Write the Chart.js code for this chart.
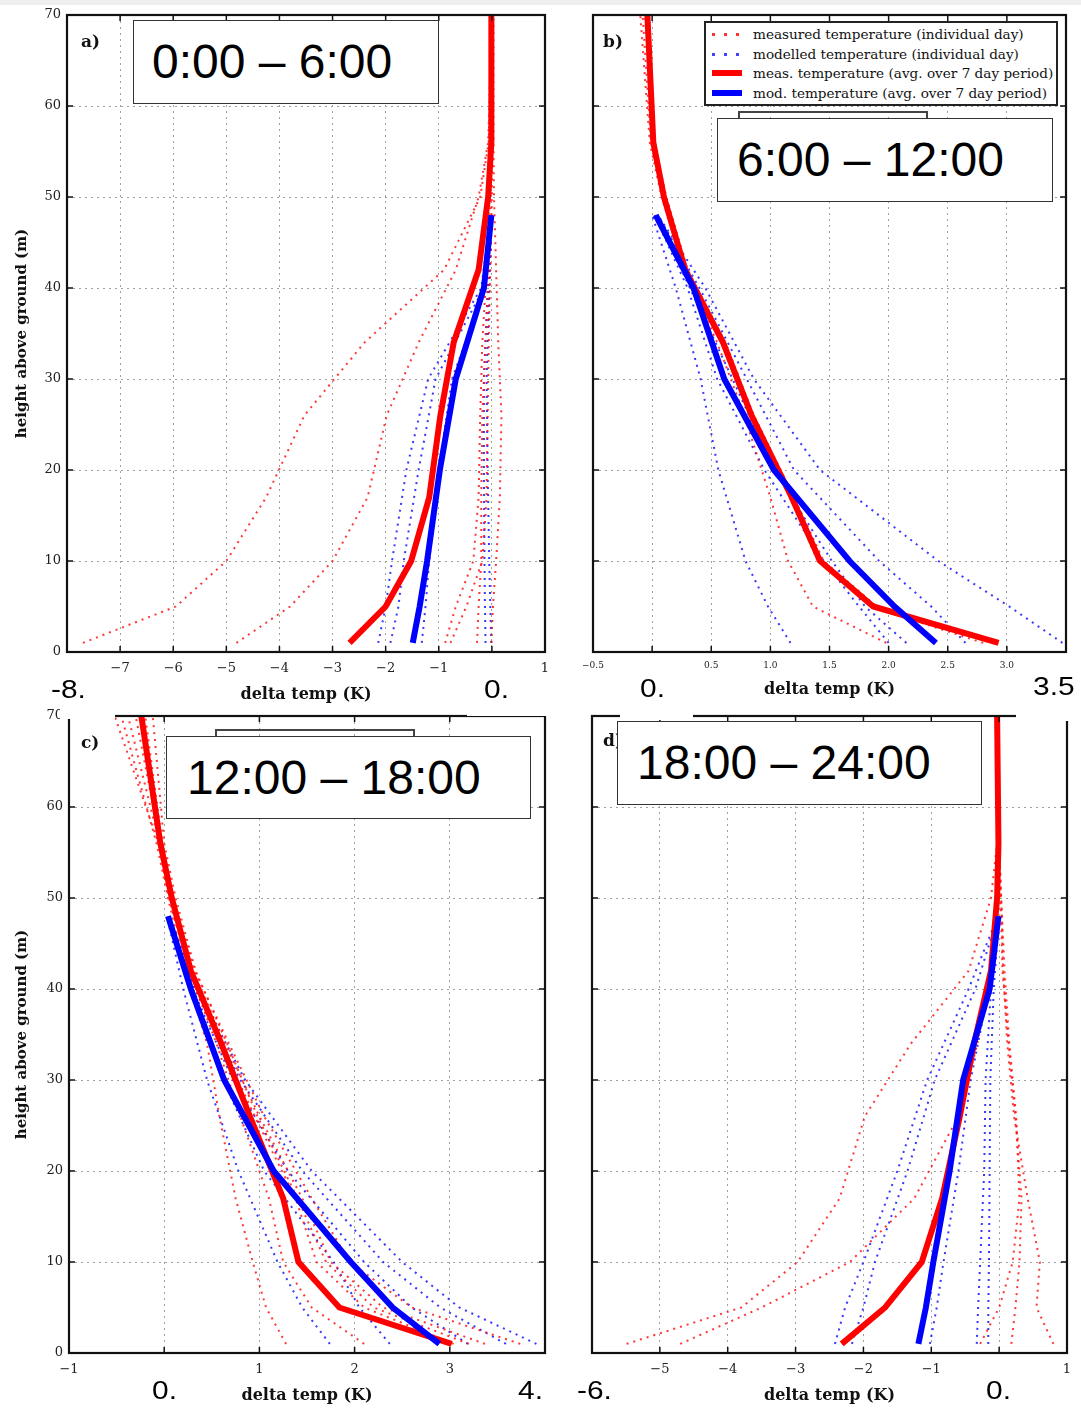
<!DOCTYPE html>
<html>
<head>
<meta charset="utf-8">
<script src="https://cdn.jsdelivr.net/npm/chart.js@4.4.1/dist/chart.umd.min.js"></script>
<style>
  body { margin: 0; background: #fff; }
  #page { position: relative; width: 1081px; height: 1410px; overflow: hidden; background: #fff; }
  canvas { position: absolute; }
  .tbox { position: absolute; border: 1px solid #333; background: #fff; font-family: 'Liberation Sans', Arial, sans-serif; font-size: 48px; color: #000; box-sizing: border-box; white-space: nowrap; }
  .frag { position: absolute; border: 2px solid #444; border-bottom: none; box-sizing: border-box; }
  .wipe { position: absolute; background: #fff; }
  .big { position: absolute; font-family: 'Liberation Sans', Arial, sans-serif; font-size: 26px; line-height: 26px; color: #000; transform: scaleX(1.15); transform-origin: left top; }
  .plab { position: absolute; font-family: 'DejaVu Serif', serif; font-weight: bold; font-size: 17px; line-height: 20px; color: #111; }
  #legend { position: absolute; left: 704px; top: 21px; width: 354px; height: 85px; border: 2px solid #222; background: #fff; box-sizing: border-box; font-family: 'DejaVu Serif', serif; font-size: 13.6px; color: #111; }
  .lrow { position: absolute; left: 0; height: 18px; line-height: 18px; white-space: nowrap; }
  .lrow span.s { position: absolute; left: 6px; top: 8px; width: 30px; height: 3px; }
  .lrow span.t { position: absolute; left: 47px; top: 0; }
</style>
</head>
<body>
<div id="page">
  <div style="position:absolute;left:0;top:0;width:1081px;height:5px;background:#efefef"></div>
  <canvas id="ca" width="550" height="705" style="left:0;top:0"></canvas>
  <canvas id="cb" width="501" height="705" style="left:580px;top:0"></canvas>
  <canvas id="cc" width="550" height="705" style="left:0;top:705px"></canvas>
  <canvas id="cd" width="501" height="705" style="left:580px;top:705px"></canvas>

  <div class="wipe" style="left:60px;top:708px;width:55px;height:11px"></div>
  <div class="wipe" style="left:467px;top:708px;width:83px;height:8px"></div>
  <div class="wipe" style="left:1016px;top:708px;width:60px;height:13px"></div>

  <div class="plab" style="left:81px;top:31px">a)</div>
  <div class="plab" style="left:603px;top:31px">b)</div>
  <div class="plab" style="left:81px;top:732px">c)</div>
  <div class="plab" style="left:603px;top:730px">d)</div>

  <div class="tbox" style="left:133px;top:20px;width:306px;height:84px;line-height:82px;padding-left:18px">0:00 – 6:00</div>

  <div class="frag" style="left:738px;top:111px;width:190px;height:10px"></div>
  <div class="tbox" style="left:717px;top:118px;width:336px;height:84px;line-height:82px;padding-left:19px">6:00 – 12:00</div>

  <div class="frag" style="left:215px;top:729px;width:200px;height:10px"></div>
  <div class="tbox" style="left:166px;top:736px;width:365px;height:83px;line-height:81px;padding-left:20px">12:00 – 18:00</div>

  <div class="wipe" style="left:620px;top:712px;width:73px;height:8px"></div>
  <div class="tbox" style="left:617px;top:721px;width:365px;height:84px;line-height:82px;padding-left:19px">18:00 – 24:00</div>

  <div id="legend">
    <div class="lrow" style="top:2px"><span class="s" style="background:repeating-linear-gradient(90deg,#ff3030 0 3px,transparent 3px 12px)"></span><span class="t">measured temperature (individual day)</span></div>
    <div class="lrow" style="top:22px"><span class="s" style="background:repeating-linear-gradient(90deg,#4040ff 0 3px,transparent 3px 12px)"></span><span class="t">modelled temperature (individual day)</span></div>
    <div class="lrow" style="top:41px"><span class="s" style="top:6px;height:6px;background:#ff0000"></span><span class="t">meas. temperature (avg. over 7 day period)</span></div>
    <div class="lrow" style="top:61px"><span class="s" style="top:6px;height:6px;background:#0000ff"></span><span class="t">mod. temperature (avg. over 7 day period)</span></div>
  </div>

  <div class="big" style="left:51px;top:676px">-8.</div>
  <div class="big" style="left:484px;top:676px">0.</div>
  <div class="big" style="left:640px;top:675px">0.</div>
  <div class="big" style="left:1033px;top:673px">3.5</div>
  <div class="big" style="left:152px;top:1377px">0.</div>
  <div class="big" style="left:518px;top:1377px">4.</div>
  <div class="big" style="left:577px;top:1377px">-6.</div>
  <div class="big" style="left:986px;top:1377px">0.</div>
</div>

<script>
// heights (m) of the measured and modelled profile levels
const measHeights = [1, 5, 10, 17, 26, 34, 42, 50, 56, 70];
const modHeights = [1, 5, 10, 20, 30, 40, 48];

// a) 0:00 - 6:00
const aMeasAvg = [-2.68, -2.0, -1.52, -1.18, -0.97, -0.72, -0.25, -0.07, -0.01, -0.01];
const aModAvg = [-1.49, -1.36, -1.22, -0.98, -0.68, -0.15, -0.01];
const aMeasDays = [
  [-7.7, -5.95, -5.0, -4.25, -3.53, -2.4, -0.9, -0.22, -0.06, 0.0],
  [-4.81, -3.8, -3.0, -2.34, -1.98, -1.38, -0.68, -0.25, -0.07, 0.0],
  [-0.88, -0.68, -0.35, -0.25, -0.22, -0.18, -0.1, -0.05, 0.0, 0.02],
  [-0.78, -0.48, -0.18, -0.1, -0.08, -0.06, -0.03, 0.0, 0.01, 0.02],
  [-0.28, -0.25, -0.2, -0.2, -0.18, -0.12, -0.06, -0.03, 0.0, 0.02],
  [-0.01, 0.02, 0.08, 0.15, 0.18, 0.12, 0.08, 0.04, 0.03, 0.03]
];
const aModDays = [
  [-2.14, -2.0, -1.88, -1.61, -1.2, -0.2, -0.02],
  [-1.91, -1.76, -1.66, -1.38, -1.06, -0.15, -0.01],
  [-1.32, -1.25, -1.18, -1.0, -0.75, -0.12, 0.0],
  [-0.01, -0.03, -0.05, -0.08, -0.1, -0.05, 0.0],
  [-0.12, -0.13, -0.14, -0.15, -0.15, -0.08, -0.01]
];

// b) 6:00 - 12:00
const bMeasAvg = [2.93, 1.87, 1.42, 1.18, 0.84, 0.6, 0.28, 0.1, 0.01, -0.04];
const bModAvg = [2.4, 2.05, 1.67, 1.03, 0.61, 0.35, 0.03];
const bMeasDays = [
  [1.98, 1.36, 1.15, 1.0, 0.78, 0.55, 0.27, 0.08, -0.02, -0.1],
  [2.9, 1.9, 1.45, 1.2, 0.86, 0.62, 0.3, 0.12, 0.02, -0.06],
  [2.8, 1.85, 1.4, 1.17, 0.84, 0.6, 0.28, 0.1, -0.01, -0.08]
];
const bModDays = [
  [3.47, 3.02, 2.42, 1.42, 0.86, 0.45, 0.05],
  [2.65, 2.36, 1.92, 1.2, 0.8, 0.4, 0.05],
  [2.15, 1.8, 1.52, 1.03, 0.68, 0.32, 0.03],
  [1.17, 0.98, 0.79, 0.56, 0.41, 0.2, 0.0],
  [2.0, 1.75, 1.45, 0.95, 0.55, 0.3, 0.02]
];

// c) 12:00 - 18:00
const cMeasAvg = [3.02, 1.84, 1.41, 1.25, 0.9, 0.6, 0.28, 0.08, -0.04, -0.24];
const cModAvg = [2.89, 2.4, 1.96, 1.15, 0.63, 0.28, 0.04];
const cMeasDays = [
  [1.28, 1.07, 0.93, 0.75, 0.58, 0.45, 0.22, 0.04, -0.08, -0.45],
  [3.74, 2.6, 1.95, 1.55, 1.05, 0.68, 0.32, 0.1, -0.02, -0.2],
  [3.37, 2.3, 1.75, 1.45, 1.0, 0.64, 0.3, 0.08, -0.04, -0.3],
  [3.04, 2.1, 1.6, 1.38, 0.95, 0.6, 0.28, 0.07, -0.05, -0.38],
  [2.1, 1.55, 1.25, 1.1, 0.8, 0.55, 0.26, 0.05, -0.06, -0.52],
  [3.2, 2.2, 1.7, 1.4, 0.98, 0.66, 0.33, 0.12, 0.0, -0.12]
];
const cModDays = [
  [3.91, 3.1, 2.5, 1.55, 0.85, 0.35, 0.05],
  [3.59, 2.9, 2.3, 1.45, 0.8, 0.32, 0.04],
  [3.19, 2.6, 2.1, 1.3, 0.72, 0.3, 0.04],
  [2.37, 2.05, 1.78, 1.05, 0.62, 0.26, 0.04],
  [1.74, 1.45, 1.19, 0.78, 0.45, 0.2, 0.03]
];

// d) 18:00 - 24:00
const dMeasAvg = [-2.32, -1.68, -1.14, -0.84, -0.58, -0.37, -0.12, -0.03, -0.01, -0.03];
const dModAvg = [-1.19, -1.08, -0.97, -0.73, -0.53, -0.14, -0.01];
const dMeasDays = [
  [-5.49, -3.8, -2.97, -2.35, -1.98, -1.3, -0.45, -0.12, -0.03, -0.02],
  [-4.7, -3.5, -2.2, -1.25, -0.6, -0.32, -0.12, -0.05, -0.02, -0.02],
  [-0.28, 0.0, 0.2, 0.3, 0.25, 0.15, 0.08, 0.03, 0.0, -0.02],
  [0.8, 0.55, 0.6, 0.42, 0.22, 0.12, 0.06, 0.03, 0.0, -0.01],
  [0.18, 0.24, 0.3, 0.33, 0.24, 0.14, 0.05, 0.02, 0.0, -0.02]
];
const dModDays = [
  [-2.42, -2.27, -2.0, -1.5, -1.06, -0.45, -0.02],
  [-2.17, -2.0, -1.83, -1.35, -0.95, -0.35, -0.02],
  [-1.02, -0.92, -0.82, -0.6, -0.42, -0.15, -0.01],
  [-0.33, -0.31, -0.28, -0.22, -0.2, -0.12, -0.01],
  [-0.16, -0.16, -0.15, -0.14, -0.13, -0.08, 0.0]
];

const yTicks = [0, 10, 20, 30, 40, 50, 60, 70];

function pts(xs, hs) {
  return xs.map((x, i) => ({ x: x, y: hs[i] }));
}

function fmt(v, p) {
  if (p.hide.some(h => Math.abs(h - v) < 1e-6)) return '';
  return v.toFixed(p.dec).replace('-', '\u2212');
}

// black box round the plot area with inward tick marks
const framePlugin = {
  id: 'frame',
  afterDraw(chart) {
    const { ctx, chartArea: a, scales } = chart;
    ctx.save();
    ctx.strokeStyle = '#111';
    ctx.lineWidth = 1.5;
    ctx.beginPath();
    scales.x.ticks.forEach(t => {
      const px = scales.x.getPixelForValue(t.value);
      ctx.moveTo(px, a.bottom); ctx.lineTo(px, a.bottom - 6);
      ctx.moveTo(px, a.top); ctx.lineTo(px, a.top + 6);
    });
    scales.y.ticks.forEach(t => {
      const py = scales.y.getPixelForValue(t.value);
      ctx.moveTo(a.left, py); ctx.lineTo(a.left + 6, py);
      ctx.moveTo(a.right, py); ctx.lineTo(a.right - 6, py);
    });
    ctx.stroke();
    ctx.lineWidth = 2.2;
    ctx.strokeRect(a.left, a.top, a.right - a.left, a.bottom - a.top);
    ctx.restore();
  }
};

function buildChart(p) {
  const datasets = [];
  datasets.push({ data: pts(p.modAvg, modHeights), borderColor: '#0000ff', borderWidth: 6 });
  datasets.push({ data: pts(p.measAvg, measHeights), borderColor: '#ff0000', borderWidth: 6 });
  p.measDays.forEach(d => datasets.push({
    data: pts(d, measHeights), borderColor: 'rgba(255,20,20,0.85)', borderWidth: 2, borderDash: [2, 5]
  }));
  p.modDays.forEach(d => datasets.push({
    data: pts(d, modHeights), borderColor: 'rgba(20,20,255,0.85)', borderWidth: 2, borderDash: [2, 5]
  }));
  datasets.forEach(ds => { ds.showLine = true; ds.pointRadius = 0; ds.fill = false; });

  new Chart(document.getElementById(p.id), {
    type: 'scatter',
    data: { datasets: datasets },
    options: {
      responsive: false,
      animation: false,
      devicePixelRatio: 1,
      elements: { line: { tension: 0 } },
      layout: { padding: { left: 0, top: p.top, right: p.right, bottom: 0 } },
      plugins: { legend: { display: false }, tooltip: { enabled: false } },
      scales: {
        x: {
          type: 'linear',
          min: p.xMin,
          max: p.xMax,
          afterFit: s => { s.height = p.xHeight; s.paddingLeft = 0; s.paddingRight = 0; },
          ticks: {
            stepSize: p.step,
            autoSkip: false,
            maxRotation: 0,
            padding: p.tickPad,
            color: '#222',
            font: { family: 'DejaVu Serif', size: p.tickSize },
            callback: v => fmt(v, p)
          },
          grid: { color: '#a0a0a0', lineWidth: 1, drawTicks: false },
          border: { display: false, dash: [2, 4] },
          title: {
            display: true,
            text: 'delta temp (K)',
            color: '#111',
            font: { family: 'DejaVu Serif', size: 16, weight: 'bold' },
            padding: { top: 0, bottom: p.xTitlePad }
          }
        },
        y: {
          type: 'linear',
          min: 0,
          max: 70,
          afterFit: s => { s.width = p.yWidth; s.paddingTop = 0; s.paddingBottom = 0; },
          afterBuildTicks: s => { s.ticks = yTicks.map(v => ({ value: v })); },
          ticks: {
            display: p.yLabels,
            padding: 6,
            color: '#222',
            font: { family: 'DejaVu Serif', size: 13 }
          },
          grid: { color: '#a0a0a0', lineWidth: 1, drawTicks: false },
          border: { display: false, dash: [2, 4] },
          title: {
            display: p.yLabels,
            text: 'height above ground (m)',
            color: '#111',
            font: { family: 'DejaVu Serif', size: 15, weight: 'bold' },
            padding: { top: 13, bottom: 0 }
          }
        }
      }
    },
    plugins: [framePlugin]
  });
}

const panels = [
  { id: 'ca', xMin: -8, xMax: 1, step: 1, dec: 0, hide: [-8, 0], tickSize: 13, tickPad: 9,
    measAvg: aMeasAvg, modAvg: aModAvg, measDays: aMeasDays, modDays: aModDays,
    yLabels: true, yWidth: 67, top: 15, right: 5, xHeight: 53, xTitlePad: 1 },
  { id: 'cb', xMin: -0.5, xMax: 3.5, step: 0.5, dec: 1, hide: [0, 3.5], tickSize: 9, tickPad: 8,
    measAvg: bMeasAvg, modAvg: bModAvg, measDays: bMeasDays, modDays: bModDays,
    yLabels: false, yWidth: 13, top: 15, right: 15, xHeight: 53, xTitlePad: 6 },
  { id: 'cc', xMin: -1, xMax: 4, step: 1, dec: 0, hide: [0, 4], tickSize: 13, tickPad: 9,
    measAvg: cMeasAvg, modAvg: cModAvg, measDays: cMeasDays, modDays: cModDays,
    yLabels: true, yWidth: 69, top: 11, right: 5, xHeight: 57, xTitlePad: 5 },
  { id: 'cd', xMin: -6, xMax: 1, step: 1, dec: 0, hide: [-6, 0], tickSize: 13, tickPad: 9,
    measAvg: dMeasAvg, modAvg: dModAvg, measDays: dMeasDays, modDays: dModDays,
    yLabels: false, yWidth: 12, top: 11, right: 14, xHeight: 57, xTitlePad: 5 }
];

panels.forEach(buildChart);
</script>
</body>
</html>
